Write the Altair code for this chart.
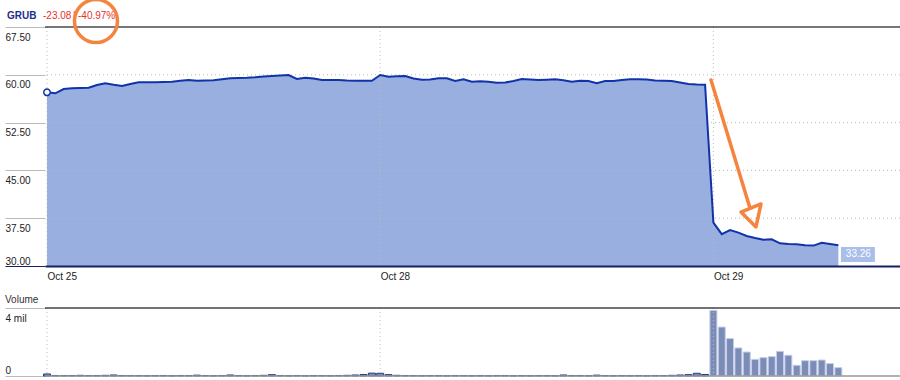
import altair as alt
import pandas as pd

# ---------------- data ----------------
day_labels = ["Oct 25", "Oct 28", "Oct 29"]
day_start_slots = [0, 40, 80]          # 10-minute slots, 40 per trading day

price = [
    57.25, 57.10, 57.77, 57.88, 57.93, 57.97, 58.40, 58.67, 58.43, 58.24,
    58.56, 58.82, 58.82, 58.82, 58.87, 58.92, 59.06, 59.18, 59.07, 59.10,
    59.14, 59.29, 59.45, 59.50, 59.54, 59.62, 59.73, 59.81, 59.89, 59.97,
    59.34, 59.54, 59.42, 59.18, 59.18, 59.18, 59.10, 59.07, 59.07, 59.07,
    59.97, 59.70, 59.78, 59.81, 59.42, 59.23, 59.26, 59.47, 59.45, 59.03,
    59.31, 58.92, 58.98, 58.92, 58.76, 58.79, 59.03, 59.34, 59.26, 59.18,
    59.23, 59.29, 59.14, 58.92, 59.07, 59.03, 58.67, 59.03, 59.03, 59.18,
    59.29, 59.29, 59.26, 59.10, 59.07, 59.03, 58.79, 58.56, 58.48, 58.45,
    36.80, 35.00, 35.65, 35.23, 34.70, 34.39, 34.12, 34.18, 33.56, 33.45,
    33.40, 33.25, 33.20, 33.65, 33.45, 33.26,
]

volume_mil = [
    0.12, 0.03, 0.03, 0.03, 0.04, 0.03, 0.03, 0.04, 0.06, 0.03,
    0.03, 0.03, 0.02, 0.03, 0.03, 0.02, 0.03, 0.03, 0.05, 0.03,
    0.02, 0.03, 0.06, 0.03, 0.02, 0.03, 0.04, 0.08, 0.03, 0.02,
    0.03, 0.02, 0.03, 0.03, 0.02, 0.03, 0.04, 0.06, 0.09, 0.17,
    0.16, 0.08, 0.04, 0.03, 0.03, 0.02, 0.03, 0.03, 0.02, 0.03,
    0.03, 0.02, 0.03, 0.02, 0.03, 0.03, 0.02, 0.03, 0.02, 0.03,
    0.03, 0.02, 0.06, 0.03, 0.03, 0.02, 0.05, 0.03, 0.02, 0.03,
    0.02, 0.03, 0.02, 0.03, 0.03, 0.04, 0.06, 0.08, 0.16, 0.09,
    3.86, 2.88, 2.20, 1.65, 1.41, 0.98, 1.08, 1.14, 1.45, 1.22,
    0.63, 0.90, 0.90, 0.94, 0.73, 0.49,
]

price_ticks = [30, 37.5, 45, 52.5, 60, 67.5]
volume_ticks = [0, 4000000]

header_symbol = "GRUB"
header_change = "-23.08"
header_sep = "|"
header_pct = "-40.97%"

# hand-drawn annotations, in data units (slot, price)
circle_slot, circle_price = [5.88], [68.44]
arrow_part = ["shaft", "shaft", "head", "head", "head", "head"]
arrow_order = [0, 1, 0, 1, 2, 3]
arrow_slot = [79.71, 84.39, 83.31, 85.71, 85.11, 83.31]
arrow_price = [59.18, 39.10, 38.47, 39.73, 36.12, 38.47]

# ---------------- styling ----------------
FONT = "Liberation Sans"
W, H = 855, 349
PRICE_H = 239
VOL_TOP, VOL_BOT = 281, 349
LINE = "#1133aa"
FILL = "#98afe0"
ORANGE = "#f5843f"
GRID = "#bbbbbb"

df = pd.DataFrame({
    "slot": list(range(len(price))),
    "price": price,
    "volume": [v * 1e6 for v in volume_mil],
})
last = df.iloc[[len(df) - 1]].copy()
last["label"] = [f"{p:.2f}" for p in last["price"]]

x_scale = alt.Scale(domain=[-0.24, 102.4], nice=False, zero=False, padding=0)
py = alt.Scale(domain=[30, 67.5], range=[PRICE_H, 0], nice=False, zero=False)
vy = alt.Scale(domain=[0, 4000000], range=[VOL_BOT, VOL_TOP], nice=False, zero=False)

label_expr = (
    f"datum.value == {day_start_slots[0]} ? '{day_labels[0]}' : "
    f"datum.value == {day_start_slots[1]} ? '{day_labels[1]}' : '{day_labels[2]}'"
)
x_axis = alt.Axis(
    values=day_start_slots, labelExpr=label_expr, orient="bottom", offset=-(H - PRICE_H),
    grid=False, ticks=False, domain=True, domainColor="#14205f", domainWidth=2,
    labelAlign="left", labelBaseline="top", labelPadding=5, labelFlush=False,
    labelFontSize=10, labelColor="#222222", title=None, zindex=1,
)
X = alt.X("slot:Q", scale=x_scale, axis=x_axis)
Xn = alt.X("slot:Q", scale=x_scale)

price_axis = alt.Axis(
    values=price_ticks, format=".2f", orient="left", grid=False, domain=False,
    tickSize=40, tickWidth=1,
    tickColor={"condition": {"test": "datum.value <= 30", "value": "#14205f"}, "value": "#bbbbbb"},
    labelAlign="left",
    labelBaseline={"condition": {"test": "datum.value <= 30", "value": "bottom"}, "value": "top"},
    labelOffset={"condition": {"test": "datum.value <= 30", "value": 0}, "value": 5},
    labelPadding=0, labelFontSize=10, labelColor="#222222", labelOverlap=False, title=None,
)
vol_axis = alt.Axis(
    values=volume_ticks, labelExpr="datum.value == 0 ? '0' : '4 mil'", orient="left",
    grid=False, domain=False, tickSize=40, tickWidth=1, tickColor="#bbbbbb",
    labelAlign="left",
    labelBaseline={"condition": {"test": "datum.value <= 0", "value": "bottom"}, "value": "top"},
    labelOffset={"condition": {"test": "datum.value <= 0", "value": -1}, "value": 5},
    labelPadding=0, labelFontSize=10, labelColor="#222222", labelOverlap=False, title=None,
)

base = alt.Chart(df)

area = base.mark_area(color=FILL, opacity=1).encode(
    x=X, y=alt.Y("price:Q", scale=py, axis=price_axis), y2=alt.Y2Datum(30)
)

hgrid = alt.Chart(pd.DataFrame({"v": price_ticks[1:-1]})).mark_rule(
    color=GRID, strokeDash=[1, 3], strokeWidth=1
).encode(y=alt.Y("v:Q", scale=py, axis=None))

days_df = pd.DataFrame({"slot": day_start_slots})
vgrid_p = alt.Chart(days_df).mark_rule(color=GRID, strokeDash=[1, 3], strokeWidth=1).encode(
    x=Xn, y=alt.YDatum(67.5, scale=py, axis=None), y2=alt.Y2Datum(30)
)

line = base.mark_line(color=LINE, strokeWidth=2).encode(
    x=Xn, y=alt.Y("price:Q", scale=py, axis=None)
)

top_rule = alt.Chart(pd.DataFrame({"v": [price_ticks[-1]]})).mark_rule(
    color="#4a4a4a", strokeWidth=1.5
).encode(y=alt.Y("v:Q", scale=py, axis=None))

start = alt.Chart(df.iloc[[0]]).mark_point(
    shape="circle", size=42, filled=True, fill="white", stroke=LINE, strokeWidth=1.5, opacity=1
).encode(x=Xn, y=alt.Y("price:Q", scale=py, axis=None))

tag_box = alt.Chart(last).mark_point(
    shape="M0.15,0.1L2.15,0.1L2.15,0.99L0.15,0.99Z", size=1156, filled=True,
    color="#a9bee9", opacity=1, strokeWidth=0
).encode(x=Xn, y=alt.Y("price:Q", scale=py, axis=None))

tag_text = alt.Chart(last).mark_text(
    color="white", fontSize=10, font=FONT, dx=20, dy=9, align="center", baseline="middle"
).encode(x=Xn, y=alt.Y("price:Q", scale=py, axis=None), text="label:N")

bars = base.mark_bar(size=7, color="#7b8cb7", strokeWidth=1).encode(
    x=Xn,
    y=alt.Y("volume:Q", scale=vy, axis=vol_axis),
    stroke=alt.condition(alt.datum.volume > 300000, alt.value("#c5cee8"), alt.value("#2b3d8a")),
)

vgrid_v = alt.Chart(days_df).mark_rule(color=GRID, strokeDash=[1, 3], strokeWidth=1).encode(
    x=Xn, y=alt.YDatum(4000000, scale=vy, axis=None), y2=alt.Y2Datum(0)
)

vol_top = alt.Chart(pd.DataFrame({"v": [volume_ticks[1]]})).mark_rule(
    color="#444444", strokeWidth=1.5
).encode(y=alt.Y("v:Q", scale=vy, axis=None))
vol_bot = alt.Chart(pd.DataFrame({"v": [volume_ticks[0]]})).mark_rule(
    color="#999999", strokeWidth=1.5
).encode(y=alt.Y("v:Q", scale=vy, axis=None))

def label(txt, xpos, ypos, color, bold=False):
    return alt.Chart(pd.DataFrame({"t": [txt]})).mark_text(
        align="left", baseline="middle", fontSize=10, font=FONT, color=color,
        fontWeight="bold" if bold else "normal",
    ).encode(text="t:N", x=alt.value(xpos), y=alt.value(ypos))

vol_title = label("Volume", -40, 273, "#333333")
h1 = label(header_symbol, -38, -11, "#1d2f8c", bold=True)
h2 = label(header_change, -2, -11, "#e8302a")
h3 = label(header_sep, 28, -11, "#e8302a")
h4 = label(header_pct, 33, -11, "#e8302a")

ann_df = pd.DataFrame({"part": arrow_part, "o": arrow_order, "slot": arrow_slot, "price": arrow_price})
arrow = alt.Chart(ann_df).mark_line(
    color=ORANGE, strokeWidth=3.5, strokeCap="round", strokeJoin="round"
).encode(
    x=Xn, y=alt.Y("price:Q", scale=py, axis=None), detail="part:N", order="o:Q"
)

circle = alt.Chart(pd.DataFrame({"slot": circle_slot, "price": circle_price})).mark_point(
    shape="circle", size=1849, filled=False, stroke=ORANGE, strokeWidth=3.5, opacity=1
).encode(x=Xn, y=alt.Y("price:Q", scale=py, axis=None))

chart = alt.layer(
    area, hgrid, vgrid_p, line, top_rule, start, tag_box, tag_text,
    bars, vgrid_v, vol_top, vol_bot, vol_title, h1, h2, h3, h4, arrow, circle,
).resolve_scale(y="independent").properties(
    width=W, height=H,
    autosize=alt.AutoSizeParams(type="none"),
    padding={"left": 45, "top": 27, "right": 0, "bottom": 4},
).configure_view(strokeWidth=0).configure_axis(labelFont=FONT).configure_text(font=FONT)

chart.save("out.html", embed_options={"renderer": "svg", "actions": False})
